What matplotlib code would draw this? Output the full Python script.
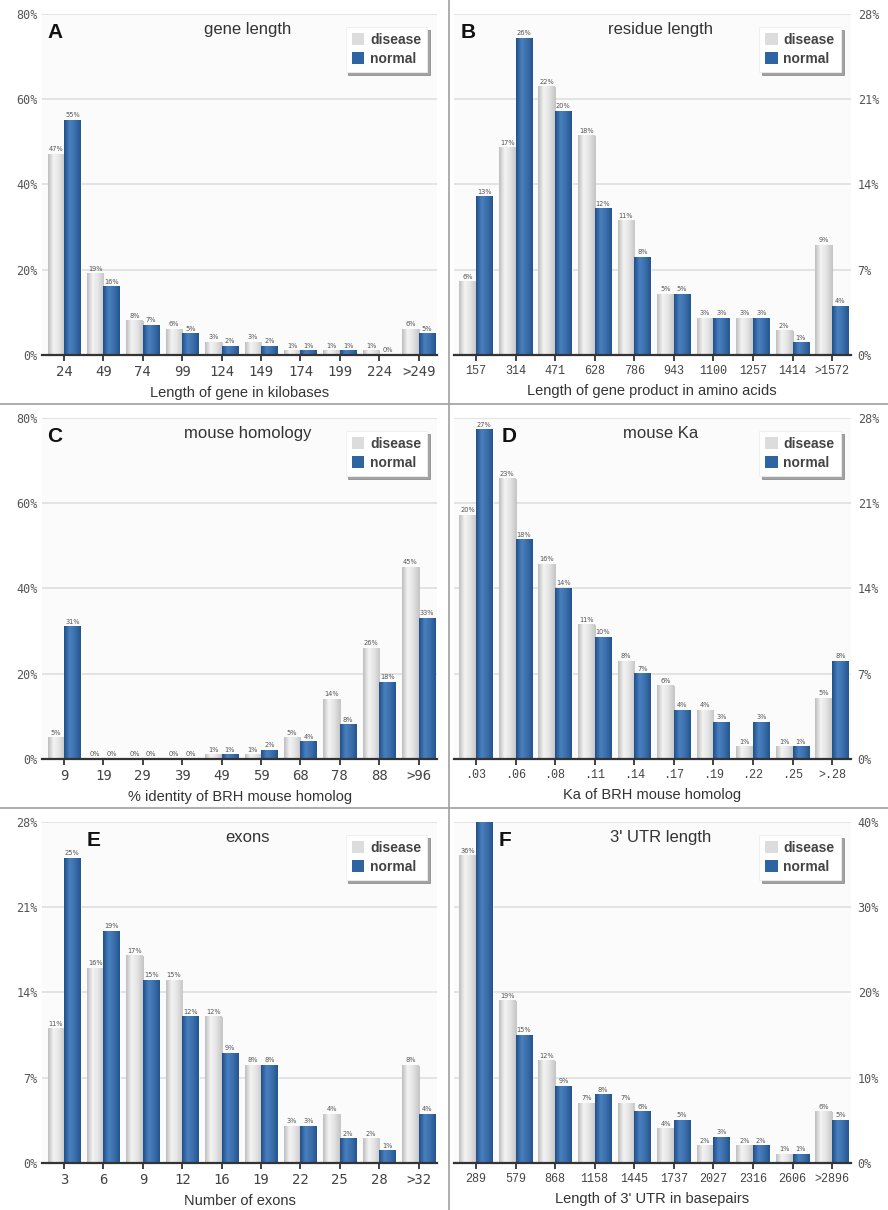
import matplotlib.pyplot as plt
import numpy as np
from matplotlib.colors import LinearSegmentedColormap
from matplotlib.patches import Patch

# bins for each panel
gene_bins = ["24", "49", "74", "99", "124", "149", "174", "199", "224", ">249"]
gene_disease = [47, 19, 8, 6, 3, 3, 1, 1, 1, 6]
gene_normal = [55, 16, 7, 5, 2, 2, 1, 1, 0, 5]

residue_bins = ["157", "314", "471", "628", "786", "943", "1100", "1257", "1414", ">1572"]
residue_disease = [6, 17, 22, 18, 11, 5, 3, 3, 2, 9]
residue_normal = [13, 26, 20, 12, 8, 5, 3, 3, 1, 4]

homology_bins = ["9", "19", "29", "39", "49", "59", "68", "78", "88", ">96"]
homology_disease = [5, 0, 0, 0, 1, 1, 5, 14, 26, 45]
homology_normal = [31, 0, 0, 0, 1, 2, 4, 8, 18, 33]

ka_bins = [".03", ".06", ".08", ".11", ".14", ".17", ".19", ".22", ".25", ">.28"]
ka_disease = [20, 23, 16, 11, 8, 6, 4, 1, 1, 5]
ka_normal = [27, 18, 14, 10, 7, 4, 3, 3, 1, 8]

exon_bins = ["3", "6", "9", "12", "16", "19", "22", "25", "28", ">32"]
exon_disease = [11, 16, 17, 15, 12, 8, 3, 4, 2, 8]
exon_normal = [25, 19, 15, 12, 9, 8, 3, 2, 1, 4]

utr_bins = ["289", "579", "868", "1158", "1445", "1737", "2027", "2316", "2606", ">2896"]
utr_disease = [36, 19, 12, 7, 7, 4, 2, 2, 1, 6]
utr_normal = [41, 15, 9, 8, 6, 5, 3, 2, 1, 5]

panels = [
    ("A", "gene length", "Length of gene in kilobases", gene_bins, gene_disease, gene_normal, [0, 20, 40, 60, 80]),
    ("B", "residue length", "Length of gene product in amino acids", residue_bins, residue_disease, residue_normal, [0, 7, 14, 21, 28]),
    ("C", "mouse homology", "% identity of BRH mouse homolog", homology_bins, homology_disease, homology_normal, [0, 20, 40, 60, 80]),
    ("D", "mouse Ka", "Ka of BRH mouse homolog", ka_bins, ka_disease, ka_normal, [0, 7, 14, 21, 28]),
    ("E", "exons", "Number of exons", exon_bins, exon_disease, exon_normal, [0, 7, 14, 21, 28]),
    ("F", "3' UTR length", "Length of 3' UTR in basepairs", utr_bins, utr_disease, utr_normal, [0, 10, 20, 30, 40]),
]
letter_x = [0.013, 0.018, 0.013, 0.12, 0.114, 0.113]

grey_cmap = LinearSegmentedColormap.from_list("g", ["#bdbdbd", "#f4f4f4", "#e4e4e4", "#c8c8c8"])
blue_cmap = LinearSegmentedColormap.from_list("b", ["#1f4f8a", "#4a80bf", "#3a6fab", "#24548e"])
grad = np.linspace(0, 1, 64).reshape(1, -1)

fig = plt.figure(figsize=(8.88, 12.10), dpi=100)
fig.patch.set_facecolor("white")

lefts = [0.0473, 0.511]
bottoms = [0.7066, 0.3727, 0.0388]
w_ax = [0.445, 0.447]
h_ax = 0.282
bw = 0.42


def shade(ax, bars, cmap):
    for b in bars:
        x, w, h = b.get_x(), b.get_width(), b.get_height()
        if h <= 0:
            continue
        ax.imshow(grad, extent=(x, x + w, 0, h), aspect="auto", cmap=cmap,
                  interpolation="bicubic", zorder=3, clip_path=b, clip_on=True)
        b.set_facecolor("none")


for i, (letter, title, xlabel, bins, dis, nor, yt) in enumerate(panels):
    col, row = i % 2, i // 2
    ax = fig.add_axes([lefts[col], bottoms[row], w_ax[col], h_ax])
    ax.set_facecolor("#fbfbfb")
    x = np.arange(len(bins))
    b1 = ax.bar(x - bw / 2, dis, bw, color="#dddddd", edgecolor="#b0b0b0", linewidth=0.5, zorder=2)
    b2 = ax.bar(x + bw / 2, nor, bw, color="#3a6fab", edgecolor="#ffffff", linewidth=0.5, zorder=2)
    shade(ax, b1, grey_cmap)
    shade(ax, b2, blue_cmap)
    ymax = yt[-1]
    for bars, vals in ((b1, dis), (b2, nor)):
        for b, v in zip(bars, vals):
            if v > ymax:
                continue
            ax.annotate(f"{v}%", (b.get_x() + b.get_width() / 2, v), xytext=(0, 1.5),
                        textcoords="offset points", ha="center", va="bottom",
                        fontsize=4.8, color="#555555", zorder=5)
    ax.set_xlim(-0.56, 9.47)
    ax.set_ylim(0, ymax)
    ax.set_yticks(yt)
    ax.set_yticklabels([f"{t}%" for t in yt], fontsize=8.5, color="#555555",
                       family="DejaVu Sans Mono")
    ax.grid(axis="y", color="#dcdcdc", linewidth=1.1, zorder=0)
    ax.set_axisbelow(True)
    for s in ("top", "left", "right"):
        ax.spines[s].set_visible(False)
    ax.spines["bottom"].set_color("#333333")
    ax.spines["bottom"].set_linewidth(1.6)
    ax.spines["bottom"].set_zorder(6)
    ax.set_xticks(x)
    if col == 0:
        ax.set_xticklabels(bins, fontsize=10, color="#444444", family="DejaVu Sans Mono")
        ax.tick_params(axis="y", length=0, pad=3, labelleft=True)
    else:
        ax.set_xticklabels(bins, fontsize=8.5, color="#444444", family="Liberation Mono")
        ax.yaxis.tick_right()
        ax.tick_params(axis="y", length=0, pad=5)
    ax.tick_params(axis="x", length=4, width=1.3, color="#333333", pad=3)
    ax.set_xlabel(xlabel, fontsize=10.5, color="#333333", family="Liberation Sans", labelpad=5)
    ax.text(letter_x[i], 0.944, letter, transform=ax.transAxes, fontsize=15, fontweight="bold",
            family="Liberation Sans", va="center", ha="left", color="#111111")
    ax.text(0.52, 0.955, title, transform=ax.transAxes, fontsize=12, family="Liberation Sans",
            va="center", ha="center", color="#333333")
    handles = [Patch(facecolor="#dcdcdc", edgecolor="none"), Patch(facecolor="#2f64a3", edgecolor="none")]
    leg = ax.legend(handles, ["disease", "normal"], loc="upper right", bbox_to_anchor=(0.975, 0.962),
                    frameon=True, shadow=True, fancybox=False, framealpha=1,
                    prop={"family": "Liberation Sans", "weight": "bold", "size": 10},
                    handlelength=0.9, handleheight=0.9, handletextpad=0.4,
                    borderpad=0.45, labelspacing=0.35, borderaxespad=0)
    leg.get_frame().set_edgecolor("#eeeeee")
    leg.get_frame().set_linewidth(0.6)
    for t in leg.get_texts():
        t.set_color("#444444")
    leg.set_zorder(10)

# panel separators
fig.add_artist(plt.Line2D([0.5056, 0.5056], [0, 1], color="#a0a0a0", linewidth=1.2))
for yy in (1 - 404 / 1210, 1 - 808 / 1210):
    fig.add_artist(plt.Line2D([0, 1], [yy, yy], color="#a0a0a0", linewidth=1.2))

plt.savefig("out.png", dpi=100)
